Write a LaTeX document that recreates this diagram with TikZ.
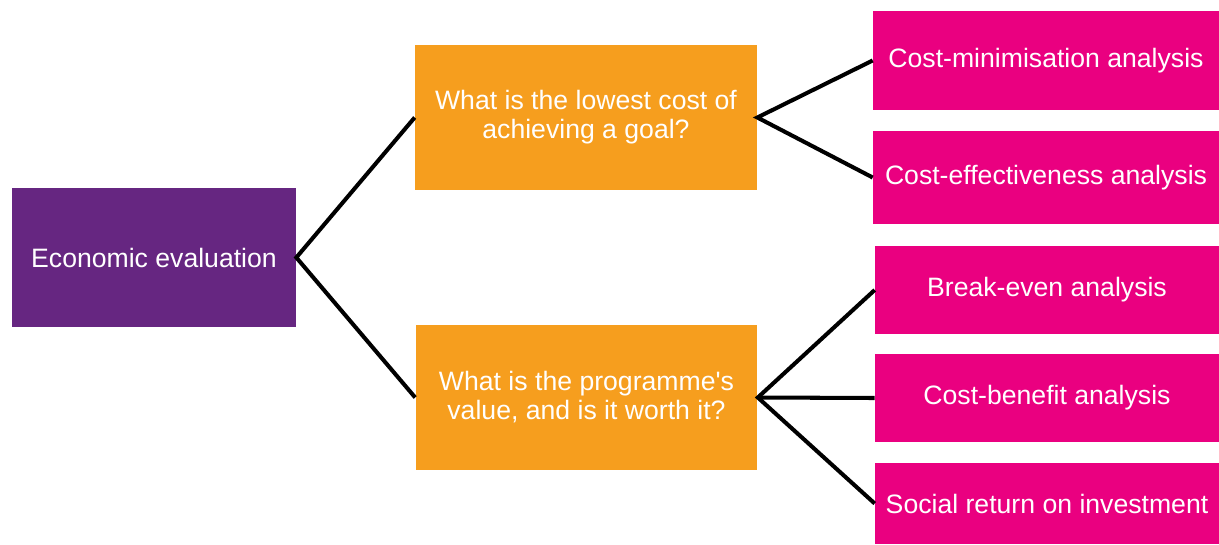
\documentclass[tikz,border=0pt]{standalone}
\usepackage{fontspec}
\setmainfont{Liberation Sans}
\usetikzlibrary{positioning}

\definecolor{evalpurple}{RGB}{102,38,129}
\definecolor{qorange}{RGB}{246,158,30}
\definecolor{mmagenta}{RGB}{234,0,128}

\begin{document}
\begin{tikzpicture}[x=0.02cm, y=-0.02cm,
                box/.style={rectangle, inner sep=0pt, text=white, align=center,
                    font=\fontsize{15.15}{16.5}\selectfont},
                rootnode/.style={box, fill=evalpurple, minimum width=5.68cm, minimum height=2.78cm},
                qnode/.style={box, fill=qorange, minimum width=6.84cm, minimum height=2.9cm},
                methnode/.style={box, fill=mmagenta, minimum width=6.88cm},
                link/.style={black, line width=2.3pt},
            ]

            \useasboundingbox (0, 0) rectangle (1219, 544);

            % root
            \node[rootnode] (eval) at (154, 257.5) {Economic evaluation};

            % questions
            \node[qnode] (lowcost) at (586, 117.5) {What is the lowest cost of\\achieving a goal?};
            \node[qnode] (worth) at (586.5, 397.5) {What is the programme\textquotesingle s\\value, and is it worth it?};

            % methods
            \node[methnode, minimum width=6.92cm, minimum height=1.98cm] (cma) at (1046, 60.5) {Cost-minimisation analysis};
            \node[methnode, minimum width=6.92cm, minimum height=1.86cm] (cea) at (1046, 177.5) {Cost-effectiveness analysis};
            \node[methnode, minimum height=1.76cm] (bea) at (1047, 290) {Break-even analysis};
            \node[methnode, minimum height=1.76cm] (cba) at (1047, 398) {Cost-benefit analysis};
            \node[methnode, minimum height=1.62cm] (sroi) at (1047, 503.5) {Social return on investment};

            % links
            \draw[link] (lowcost.west) -- (eval.east) -- (worth.west);
            \draw[link] (cma.west) -- (lowcost.east) -- (cea.west);
            \draw[link] (bea.west) -- (worth.east) -- (sroi.west);
            \draw[link] (worth.east) -- (cba.west);
        \end{tikzpicture}
\end{document}
